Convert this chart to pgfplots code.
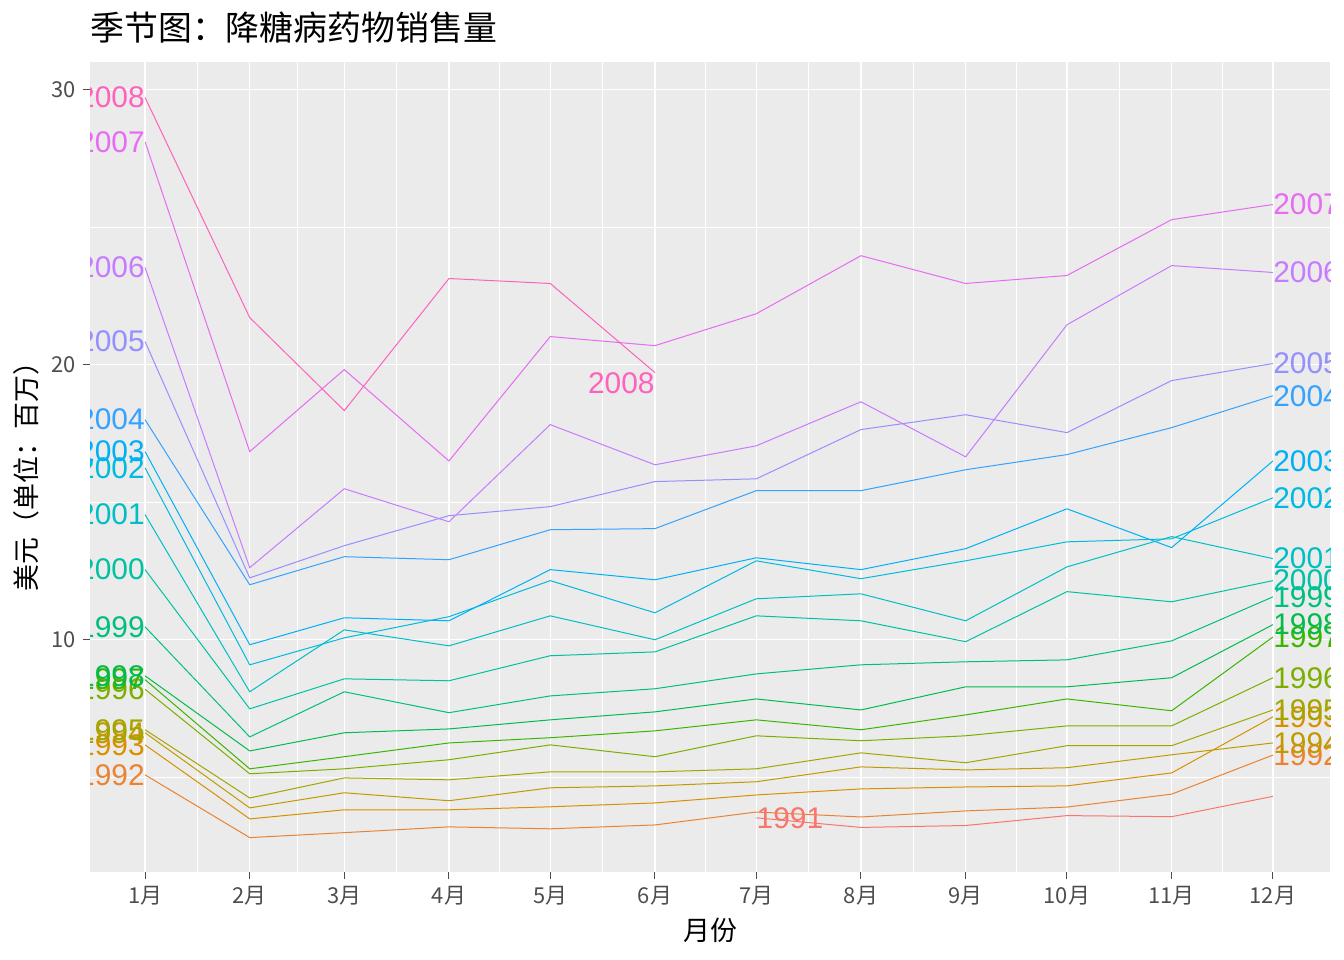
\documentclass[border=0pt]{standalone}
\usepackage{fontspec}
\setmainfont{Liberation Sans}
\newfontfamily\cjk{Noto Sans CJK SC}
\usepackage{pgfplots}
\pgfplotsset{compat=1.18}
\definecolor{bg}{HTML}{EBEBEB}
\definecolor{tk}{HTML}{4D4D4D}
\definecolor{c1991}{HTML}{F8766D}\definecolor{c1992}{HTML}{EA8331}
\definecolor{c1993}{HTML}{D89000}\definecolor{c1994}{HTML}{C09B00}
\definecolor{c1995}{HTML}{A3A500}\definecolor{c1996}{HTML}{7CAE00}
\definecolor{c1997}{HTML}{39B600}\definecolor{c1998}{HTML}{00BB4E}
\definecolor{c1999}{HTML}{00BF7D}\definecolor{c2000}{HTML}{00C1A3}
\definecolor{c2001}{HTML}{00BFC4}\definecolor{c2002}{HTML}{00BAE0}
\definecolor{c2003}{HTML}{00B0F6}\definecolor{c2004}{HTML}{35A2FF}
\definecolor{c2005}{HTML}{9590FF}\definecolor{c2006}{HTML}{C77CFF}
\definecolor{c2007}{HTML}{E76BF3}\definecolor{c2008}{HTML}{FF62BC}
\newcommand{\yr}[3]{% year, start value, end value
 \node[anchor=east,inner sep=0pt,text=c#1,font=\fontsize{15}{15}\selectfont] at (axis cs:0,#2) {#1};
 \node[anchor=west,inner sep=0pt,text=c#1,font=\fontsize{15}{15}\selectfont] at (axis cs:334,#3) {#1};}
\begin{document}
\begin{tikzpicture}
\useasboundingbox (0,0) rectangle (672bp,480bp);
\begin{axis}[at={(45bp,44bp)},anchor=south west,scale only axis,width=620bp,height=405bp,
 xmin=-16.3,xmax=350.9,ymin=1.56,ymax=31.0,
 axis background/.style={fill=bg},axis line style={draw=none},
 xtick={0,31,59,90,120,151,181,212,243,273,304,334},
 xticklabels={1月,2月,3月,4月,5月,6月,7月,8月,9月,10月,11月,12月},
 minor xtick={15.5,45,74.5,105,135.5,166,196.5,227.5,258,288.5,319},
 ytick={10,20,30},minor ytick={5,15,25},
 grid=both,major grid style={white,line width=0.6bp},minor grid style={white,line width=0.3bp},
 tick style={tk,line width=0.5bp},major tick length=3.5bp,minor tick length=0pt,
 tick pos=left,tick align=outside,
 ticklabel style={text=tk,font=\cjk\fontsize{11}{11}\selectfont},
 /pgf/number format/assume math mode=true,
 every axis plot/.append style={line width=0.5bp,no markers},
 clip=true]
\addplot[c1991] coordinates {(181,3.53)(212,3.18)(243,3.25)(273,3.61)(304,3.57)(334,4.31)};
\addplot[c1992] coordinates {(0,5.09)(31,2.81)(59,2.99)(90,3.20)(120,3.13)(151,3.27)(181,3.74)(212,3.56)(243,3.78)(273,3.92)(304,4.39)(334,5.81)};
\addplot[c1993] coordinates {(0,6.18)(31,3.49)(59,3.82)(90,3.82)(120,3.93)(151,4.07)(181,4.36)(212,4.58)(243,4.65)(273,4.69)(304,5.16)(334,7.2)};
\addplot[c1994] coordinates {(0,6.62)(31,3.89)(59,4.44)(90,4.15)(120,4.62)(151,4.69)(181,4.84)(212,5.38)(243,5.27)(273,5.35)(304,5.82)(334,6.25)};
\addplot[c1995] coordinates {(0,6.73)(31,4.25)(59,4.98)(90,4.91)(120,5.2)(151,5.2)(181,5.31)(212,5.89)(243,5.53)(273,6.15)(304,6.15)(334,7.45)};
\addplot[c1996] coordinates {(0,8.2)(31,5.13)(59,5.31)(90,5.64)(120,6.18)(151,5.75)(181,6.51)(212,6.33)(243,6.51)(273,6.87)(304,6.87)(334,8.62)};
\addplot[c1997] coordinates {(0,8.55)(31,5.31)(59,5.75)(90,6.25)(120,6.44)(151,6.69)(181,7.09)(212,6.73)(243,7.27)(273,7.85)(304,7.42)(334,10.1)};
\addplot[c1998] coordinates {(0,8.69)(31,5.96)(59,6.62)(90,6.76)(120,7.09)(151,7.38)(181,7.85)(212,7.45)(243,8.29)(273,8.29)(304,8.62)(334,10.55)};
\addplot[c1999] coordinates {(0,10.47)(31,6.47)(59,8.11)(90,7.35)(120,7.96)(151,8.22)(181,8.76)(212,9.09)(243,9.2)(273,9.27)(304,9.96)(334,11.56)};
\addplot[c2000] coordinates {(0,12.55)(31,7.49)(59,8.58)(90,8.51)(120,9.42)(151,9.56)(181,10.87)(212,10.69)(243,9.93)(273,11.75)(304,11.38)(334,12.15)};
\addplot[c2001] coordinates {(0,14.55)(31,8.11)(59,10.36)(90,9.78)(120,10.87)(151,10.0)(181,11.49)(212,11.67)(243,10.69)(273,12.65)(304,13.75)(334,12.95)};
\addplot[c2002] coordinates {(0,16.25)(31,9.09)(59,10.07)(90,10.84)(120,12.15)(151,10.98)(181,12.87)(212,12.22)(243,12.87)(273,13.56)(304,13.67)(334,15.16)};
\addplot[c2003] coordinates {(0,16.84)(31,9.82)(59,10.8)(90,10.69)(120,12.55)(151,12.18)(181,12.98)(212,12.55)(243,13.31)(273,14.76)(304,13.35)(334,16.5)};
\addplot[c2004] coordinates {(0,18.0)(31,12.0)(59,13.02)(90,12.91)(120,14.0)(151,14.04)(181,15.42)(212,15.42)(243,16.18)(273,16.73)(304,17.71)(334,18.87)};
\addplot[c2005] coordinates {(0,20.84)(31,12.25)(59,13.42)(90,14.51)(120,14.84)(151,15.75)(181,15.85)(212,17.64)(243,18.18)(273,17.53)(304,19.42)(334,20.04)};
\addplot[c2006] coordinates {(0,23.53)(31,12.62)(59,15.49)(90,14.29)(120,17.82)(151,16.36)(181,17.05)(212,18.65)(243,16.65)(273,21.45)(304,23.6)(334,23.35)};
\addplot[c2007] coordinates {(0,28.1)(31,16.84)(59,19.82)(90,16.5)(120,21.02)(151,20.69)(181,21.85)(212,23.96)(243,22.95)(273,23.24)(304,25.27)(334,25.82)};
\addplot[c2008] coordinates {(0,29.71)(31,21.71)(59,18.33)(90,23.13)(120,22.95)(151,19.71)};
\node[anchor=west,inner sep=0pt,text=c1991,font=\fontsize{15}{15}\selectfont] at (axis cs:181,3.53) {1991};
\node[anchor=east,inner sep=0pt,text=c1992,font=\fontsize{15}{15}\selectfont] at (axis cs:0,5.09) {1992};
\node[anchor=west,inner sep=0pt,text=c1992,font=\fontsize{15}{15}\selectfont] at (axis cs:334,5.81) {1992};
\yr{1993}{6.18}{7.2}\yr{1994}{6.62}{6.25}\yr{1995}{6.73}{7.45}\yr{1996}{8.2}{8.62}
\yr{1997}{8.55}{10.1}\yr{1998}{8.69}{10.55}\yr{1999}{10.47}{11.56}\yr{2000}{12.55}{12.15}
\yr{2001}{14.55}{12.95}\yr{2002}{16.25}{15.16}\yr{2003}{16.84}{16.5}\yr{2004}{18.0}{18.87}
\yr{2005}{20.84}{20.04}\yr{2006}{23.53}{23.35}\yr{2007}{28.1}{25.82}
\node[anchor=east,inner sep=0pt,text=c2008,font=\fontsize{15}{15}\selectfont] at (axis cs:0,29.71) {2008};
\node[anchor=north east,inner sep=0pt,text=c2008,font=\fontsize{15}{15}\selectfont] at (axis cs:151,19.71) {2008};
\end{axis}
\node[anchor=west,inner sep=0pt,font=\cjk\fontsize{17}{17}\selectfont] at (45bp,466bp) {季节图：降糖病药物销售量};
\node[inner sep=0pt,font=\cjk\fontsize{13.5}{13.5}\selectfont] at (355bp,15bp) {月份};
\node[inner sep=0pt,rotate=90,font=\cjk\fontsize{13.5}{13.5}\selectfont] at (13bp,245bp) {美元（单位：百万）};
\end{tikzpicture}
\end{document}
